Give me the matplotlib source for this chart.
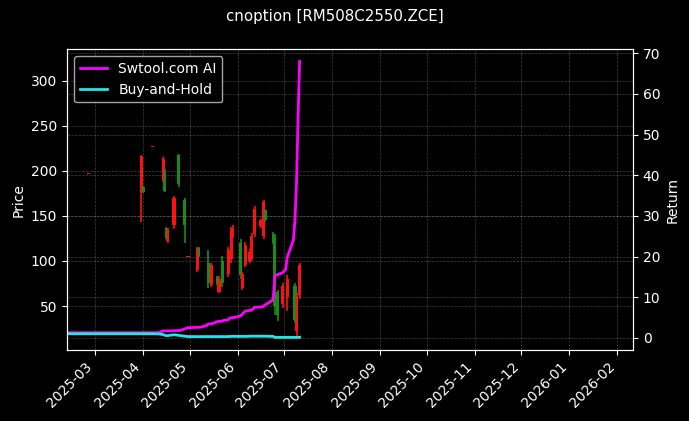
import matplotlib
matplotlib.use('Agg')
import matplotlib.pyplot as plt
import matplotlib.dates as mdates
import numpy as np
import pandas as pd

# candle data (price, left axis)
candle_dates = ['2025-02-25', '2025-03-31', '2025-04-01', '2025-04-07', '2025-04-14',
                '2025-04-15', '2025-04-16', '2025-04-17', '2025-04-21', '2025-04-24',
                '2025-04-28', '2025-04-30', '2025-05-06', '2025-05-07', '2025-05-13',
                '2025-05-15', '2025-05-19', '2025-05-20', '2025-05-22', '2025-05-26',
                '2025-05-28', '2025-05-29', '2025-06-03', '2025-06-04', '2025-06-06',
                '2025-06-09', '2025-06-10', '2025-06-12', '2025-06-16', '2025-06-18',
                '2025-06-19', '2025-06-24', '2025-06-25', '2025-06-27', '2025-06-30',
                '2025-07-03', '2025-07-08', '2025-07-09', '2025-07-11']
opens  = [197, 176, 182, 226, 190, 200, 136, 122, 140, 217, 168, 104, 90, 114, 98,
          73, 82, 66, 100, 86, 102, 128, 120, 70, 95, 100, 103, 130, 139, 128,
          156, 130, 125, 65, 52, 60, 72, 22, 62]
highs  = [198, 218, 183, 227, 215, 202, 138, 136, 172, 219, 170, 105, 115, 116, 112,
          98, 83, 83, 105, 116, 138, 140, 124, 88, 121, 113, 131, 161, 147, 168,
          158, 132, 130, 68, 76, 84, 76, 64, 98]
lows   = [197, 143, 175, 226, 188, 176, 124, 120, 135, 182, 120, 104, 88, 104, 70,
          71, 73, 64, 71, 82, 98, 126, 80, 68, 93, 98, 101, 127, 137, 124,
          143, 119, 40, 33, 48, 45, 31, 16, 58]
closes = [198, 216, 177, 227, 213, 178, 127, 134, 170, 185, 140, 105, 112, 106, 75,
          95, 75, 80, 75, 112, 134, 136, 84, 86, 118, 110, 128, 158, 145, 165,
          145, 121, 50, 40, 72, 80, 35, 60, 95]

# return curves (right axis)
ret_dates = ['2025-02-11', '2025-04-07', '2025-04-11', '2025-04-14', '2025-04-16',
             '2025-04-21', '2025-04-25', '2025-04-30', '2025-05-08', '2025-05-12',
             '2025-05-13', '2025-05-16', '2025-05-19', '2025-05-22', '2025-05-23',
             '2025-05-26', '2025-05-27', '2025-05-30', '2025-06-03', '2025-06-05',
             '2025-06-06', '2025-06-10', '2025-06-12', '2025-06-17', '2025-06-18',
             '2025-06-23', '2025-06-24', '2025-06-25', '2025-06-30', '2025-07-02',
             '2025-07-03', '2025-07-07', '2025-07-08', '2025-07-09', '2025-07-10',
             '2025-07-11']
strategy = [1.25, 1.25, 1.25, 1.7, 1.7, 1.75, 1.8, 2.5, 2.6, 3.0,
            3.4, 3.5, 4.0, 4.1, 4.3, 4.4, 4.9, 5.0, 5.4, 6.2,
            6.6, 6.8, 7.5, 7.6, 7.9, 9.1, 9.6, 15.3, 16.0, 16.8,
            19.8, 24.0, 29.0, 38.0, 54.0, 68.0]
buyhold = [1.0, 1.0, 0.95, 0.8, 0.5, 0.75, 0.55, 0.3, 0.3, 0.3,
           0.3, 0.3, 0.3, 0.3, 0.3, 0.3, 0.35, 0.35, 0.35, 0.35,
           0.35, 0.4, 0.4, 0.4, 0.4, 0.35, 0.35, 0.1, 0.1, 0.1,
           0.1, 0.1, 0.1, 0.1, 0.1, 0.15]

plt.style.use('dark_background')
fig = plt.figure(figsize=(6.89, 4.21), dpi=100)
fig.subplots_adjust(left=67/689, right=633/689, bottom=1-350/421, top=1-49.3/421)
ax = fig.add_subplot(111)

cd = pd.to_datetime(candle_dates)
o = np.array(opens, float); h = np.array(highs, float)
l = np.array(lows, float); c = np.array(closes, float)
cols = np.where(c >= o, '#ff1010', '#1a8a1a')
ax.vlines(cd, l, h, colors=cols, linewidth=1.2)
body = np.maximum(np.abs(c - o), 1.0)
ax.bar(cd, body, bottom=np.minimum(o, c), width=2.0, color=cols, linewidth=0)
ax.set_ylabel('Price')
ax.set_ylim(1.2, 334.8)
ax.grid(True, color='gray', linestyle='--', linewidth=0.5, alpha=0.5)

ax2 = ax.twinx()
rd = pd.to_datetime(ret_dates)
ax2.plot(rd, strategy, color='#ff00ff', linewidth=2, label='Swtool.com AI')
ax2.plot(rd, buyhold, color='#22e5e5', linewidth=2, label='Buy-and-Hold')
ax2.set_ylabel('Return')
ax2.set_ylim(-3.0, 71.0)
ax2.grid(True, color='gray', linestyle='--', linewidth=0.5, alpha=0.5)
ax2.legend(loc='upper left')

ax.set_xlim(pd.Timestamp('2025-02-11'), pd.Timestamp('2026-02-11'))
ax.xaxis.set_major_locator(mdates.MonthLocator())
ax.xaxis.set_major_formatter(mdates.DateFormatter('%Y-%m'))
plt.setp(ax.get_xticklabels(), rotation=45, ha='right')

fig.text(335/689, 1-17/421, 'cnoption [RM508C2550.ZCE]', ha='center', va='center', fontsize=10.8)

plt.savefig('out.png', dpi=100)
